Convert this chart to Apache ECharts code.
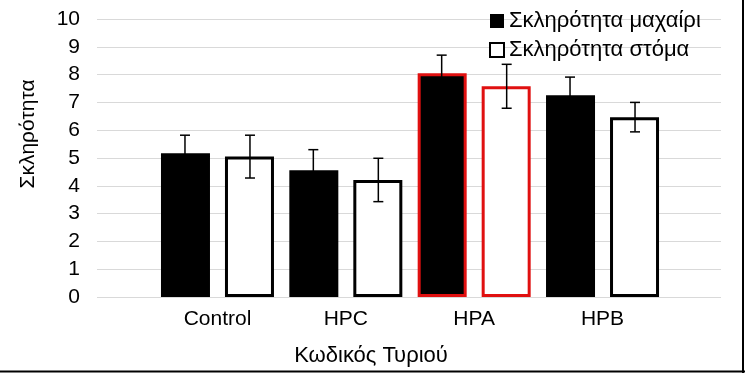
<!DOCTYPE html>
<html><head><meta charset="utf-8">
<script src="https://cdn.jsdelivr.net/npm/echarts@6/dist/echarts.min.js"></script>
<style>html,body{margin:0;padding:0;background:#fff}#c{width:745px;height:373px}</style>
</head><body><div id="c"></div>
<script>
const categories = ['Control', 'HPC', 'HPA', 'HPB'];
const seriesNames = ['Σκληρότητα μαχαίρι', 'Σκληρότητα στόμα'];
const knifeValues = [5.17, 4.56, 8.05, 7.26];
const knifeErrors = [0.65, 0.74, 0.65, 0.65];
const mouthValues = [5.05, 4.21, 7.58, 6.47];
const mouthErrors = [0.77, 0.78, 0.79, 0.53];
const highlighted = ['HPA'];
const xAxisTitle = 'Κωδικός Τυριού';
const yAxisTitle = 'Σκληρότητα';

const FONT = '"Liberation Sans", Arial, sans-serif';
const BAR_W = 49, BAR_GAP_PX = 15;
const OFFSET = (BAR_W + BAR_GAP_PX) / 2 + 0.5;
const RED = '#e01010';

function barData(vals, fill) {
  return vals.map((v, i) => {
    const hl = highlighted.includes(categories[i]);
    return { value: v, itemStyle: { color: fill, borderColor: hl ? RED : '#000', borderWidth: 3 } };
  });
}
function errRender(offset) {
  return function (params, api) {
    const c = api.coord([api.value(0), api.value(1)]);
    const x = c[0] + offset;
    const hi = api.coord([api.value(0), api.value(1) + api.value(2)])[1];
    const lo = api.coord([api.value(0), api.value(1) - api.value(2)])[1];
    const cap = 5;
    const st = { stroke: '#000', lineWidth: 1.5 };
    return { type: 'group', children: [
      { type: 'line', shape: { x1: x, y1: hi, x2: x, y2: lo }, style: st },
      { type: 'line', shape: { x1: x - cap, y1: hi, x2: x + cap, y2: hi }, style: st },
      { type: 'line', shape: { x1: x - cap, y1: lo, x2: x + cap, y2: lo }, style: st }
    ]};
  };
}

const chart = echarts.init(document.getElementById('c'), null, { renderer: 'canvas' });
chart.setOption({
  animation: false,
  backgroundColor: '#fff',
  textStyle: { fontFamily: FONT, color: '#000' },
  grid: [
    { left: 97, right: 24, top: 19, bottom: 76 },
    { left: 153.3, right: 78.3, top: 19, bottom: 76 }
  ],
  xAxis: [
    { gridIndex: 0, type: 'value', min: 0, max: 1, show: false },
    { gridIndex: 1, type: 'category', data: categories,
      axisLine: { show: false }, axisTick: { show: false },
      axisLabel: { fontSize: 21, color: '#000', margin: 12, fontFamily: FONT } }
  ],
  yAxis: [
    { gridIndex: 0, type: 'value', min: 0, max: 10, interval: 1,
      axisLine: { show: false }, axisTick: { show: false },
      splitLine: { lineStyle: { color: '#d9d9d9', width: 1 } },
      axisLabel: { fontSize: 21, color: '#000', margin: 17, fontFamily: FONT } },
    { gridIndex: 1, type: 'value', min: 0, max: 10, show: false }
  ],
  legend: {
    orient: 'vertical', left: 489, top: 10, padding: 0,
    itemWidth: 14, itemHeight: 14, itemGap: 7,
    textStyle: { fontSize: 22, lineHeight: 22, color: '#000', fontFamily: FONT },
    data: [
      { name: seriesNames[0], icon: 'rect', itemStyle: { color: '#000', borderColor: '#000', borderWidth: 0 } },
      { name: seriesNames[1], icon: 'rect', itemStyle: { color: '#fff', borderColor: '#000', borderWidth: 2 } }
    ]
  },
  series: [
    { name: seriesNames[0], type: 'bar', xAxisIndex: 1, yAxisIndex: 1,
      barWidth: BAR_W, barGap: (BAR_GAP_PX / BAR_W * 100) + '%',
      itemStyle: { color: '#000', borderColor: '#000', borderWidth: 3 },
      data: barData(knifeValues, '#000') },
    { name: seriesNames[1], type: 'bar', xAxisIndex: 1, yAxisIndex: 1,
      barWidth: BAR_W, barGap: (BAR_GAP_PX / BAR_W * 100) + '%',
      itemStyle: { color: '#fff', borderColor: '#000', borderWidth: 3 },
      data: barData(mouthValues, '#fff') },
    { type: 'custom', xAxisIndex: 1, yAxisIndex: 1, z: 10,
      renderItem: errRender(-OFFSET), encode: { x: 0, y: 1 },
      data: knifeValues.map((v, i) => [i, v, knifeErrors[i]]) },
    { type: 'custom', xAxisIndex: 1, yAxisIndex: 1, z: 10,
      renderItem: errRender(OFFSET), encode: { x: 0, y: 1 },
      data: mouthValues.map((v, i) => [i, v, mouthErrors[i]]) }
  ],
  graphic: [
    { type: 'text', x: 371, y: 356, style: { text: xAxisTitle, font: '22px ' + FONT, fill: '#000', textAlign: 'center', textVerticalAlign: 'middle' } },
    { type: 'text', x: 28, y: 134, rotation: Math.PI / 2, style: { text: yAxisTitle, font: '21px ' + FONT, fill: '#000', textAlign: 'center', textVerticalAlign: 'middle' } },
    { type: 'line', shape: { x1: 743, y1: 0, x2: 743, y2: 373 }, style: { stroke: '#000', lineWidth: 2 } },
    { type: 'line', shape: { x1: 0, y1: 371.5, x2: 745, y2: 371.5 }, style: { stroke: '#000', lineWidth: 2 } }
  ]
});
</script></body></html>
